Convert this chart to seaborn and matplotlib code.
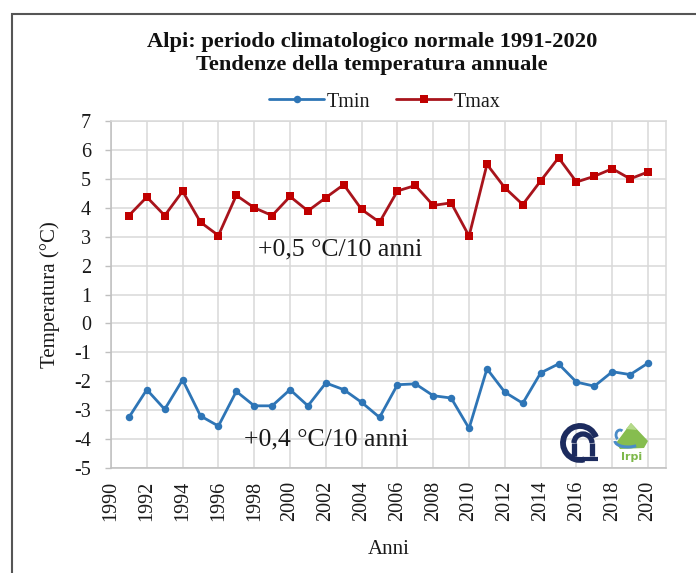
import matplotlib
matplotlib.use("Agg")
import matplotlib.pyplot as plt
from matplotlib.patches import Rectangle, Arc, Polygon
import seaborn as sns
import pandas as pd

# Annual series, Alps, 1991-2020 (°C)
years = [1991, 1992, 1993, 1994, 1995, 1996, 1997, 1998, 1999, 2000,
         2001, 2002, 2003, 2004, 2005, 2006, 2007, 2008, 2009, 2010,
         2011, 2012, 2013, 2014, 2015, 2016, 2017, 2018, 2019, 2020]
tmin = [-3.25, -2.29, -2.97, -1.95, -3.20, -3.55, -2.35, -2.85, -2.85, -2.29,
        -2.85, -2.06, -2.29, -2.73, -3.25, -2.12, -2.09, -2.50, -2.58, -3.63,
        -1.57, -2.38, -2.76, -1.71, -1.40, -2.03, -2.17, -1.67, -1.77, -1.37]
tmax = [3.73, 4.37, 3.73, 4.57, 3.50, 3.04, 4.43, 4.00, 3.73, 4.39,
        3.89, 4.35, 4.80, 3.94, 3.50, 4.58, 4.77, 4.08, 4.17, 3.02,
        5.50, 4.69, 4.11, 4.93, 5.73, 4.89, 5.09, 5.35, 5.00, 5.24]
x_ticks = [1990, 1992, 1994, 1996, 1998, 2000, 2002, 2004, 2006, 2008,
           2010, 2012, 2014, 2016, 2018, 2020]
y_ticks = [-5, -4, -3, -2, -1, 0, 1, 2, 3, 4, 5, 6, 7]
trend_labels = ["+0,5 °C/10 anni", "+0,4 °C/10 anni"]

df = pd.DataFrame({"Anno": years, "Tmin": tmin, "Tmax": tmax})

sns.set_theme(style="white")
plt.rcParams["font.family"] = ["Liberation Serif", "DejaVu Serif"]
plt.rcParams["axes.unicode_minus"] = False

W, H = 696, 573
fig = plt.figure(figsize=(W / 100, H / 100), dpi=100)
ax = fig.add_axes([111 / W, 1 - 468 / H, (666 - 111) / W, (468 - 121) / H])

blue = "#2E75B6"
red_line = "#A8141C"
red_mark = "#C00000"

sns.lineplot(data=df, x="Anno", y="Tmin", ax=ax, color=blue, lw=2.0,
             marker="o", markersize=5.4, markeredgewidth=0,
             label="Tmin", zorder=3)
sns.lineplot(data=df, x="Anno", y="Tmax", ax=ax, color=red_line, lw=2.0,
             marker="s", markersize=5.4, markerfacecolor=red_mark,
             markeredgewidth=0, label="Tmax", zorder=3)

ax.set_xlim(1990, 2021)
ax.set_ylim(-5, 7)
ax.set_xticks(x_ticks)
ax.set_yticks(y_ticks)
ax.set_xticklabels([str(v) for v in x_ticks], rotation=90, fontsize=14.5)
ax.set_yticklabels([str(v) for v in y_ticks], fontsize=14.5)
ax.tick_params(axis="x", length=0, pad=9, colors="#1a1a1a")
ax.tick_params(axis="y", length=4.5, width=1.0, direction="out", pad=10,
               colors="#1a1a1a", left=True)
ax.tick_params(axis="y", color="#BFBFBF")

ax.grid(True, color="#D9D9D9", lw=1.1, zorder=0)
ax.set_axisbelow(True)
for side in ["top", "right"]:
    ax.spines[side].set_color("#D9D9D9")
    ax.spines[side].set_linewidth(1.1)
for side in ["left", "bottom"]:
    ax.spines[side].set_color("#BFBFBF")
    ax.spines[side].set_linewidth(1.1)

ax.set_xlabel("Anni", fontsize=15, color="#1a1a1a")
ax.set_ylabel("Temperatura (°C)", fontsize=15, color="#1a1a1a")
ax.xaxis.set_label_coords(0.5, -(540 - 468) / (468 - 121))
ax.yaxis.set_label_coords((60 - 111) / (666 - 111), 0.5)

# trend annotations
ax.text(2002.8, 2.56, trend_labels[0], fontsize=18.5, ha="center",
        va="center", color="#1a1a1a")
ax.text(2002.0, -4.02, trend_labels[1], fontsize=18.5, ha="center",
        va="center", color="#1a1a1a")

leg = ax.legend(loc="center", bbox_to_anchor=(385 / W, 1 - 102 / H),
                bbox_transform=fig.transFigure, ncol=2, frameon=False,
                fontsize=14.5, handlelength=2.7, handletextpad=0.15,
                columnspacing=1.3, borderpad=0)
for t in leg.get_texts():
    t.set_color("#1a1a1a")

fig.text(372 / W, 1 - 42 / H, "Alpi: periodo climatologico normale 1991-2020",
         ha="center", va="center", fontsize=16.2, fontweight="bold",
         color="#111111")
fig.text(372 / W, 1 - 65 / H, "Tendenze della temperatura annuale",
         ha="center", va="center", fontsize=16.2, fontweight="bold",
         color="#111111")

# outer chart frame
fig.patches.append(Rectangle((12 / W, -0.2), 1.5, 1.2 - 14 / H,
                             transform=fig.transFigure, fill=False,
                             edgecolor="#555555", lw=1.5))

# institutional marks, drawn in pixel units
lg = fig.add_axes([558 / W, 1 - 463 / H, 92 / W, 44 / H])
lg.set_xlim(0, 92)
lg.set_ylim(0, 44)
lg.axis("off")
navy = "#1C2B5E"
lg.add_patch(Arc((22, 20), 34, 34, theta1=20, theta2=285, lw=4.2,
                 color=navy))
lg.add_patch(Arc((25, 20), 18, 18, theta1=0, theta2=180, lw=3.8,
                 color=navy))
lg.plot([16, 16], [20, 7], color=navy, lw=3.8, solid_capstyle="butt")
lg.plot([34, 34], [20, 7], color=navy, lw=3.8, solid_capstyle="butt")
lg.plot([26, 40], [4.5, 4.5], color=navy, lw=3.0, solid_capstyle="butt")
lg.add_patch(Polygon([[58, 20], [73, 40], [90, 22], [86, 15], [62, 14]],
                     closed=True, color="#86BD4F", lw=0))
lg.add_patch(Polygon([[68, 34], [73, 40], [79, 33]], closed=True,
                     color="#B5DA8A", lw=0))
lg.add_patch(Arc((70, 22), 26, 12, theta1=180, theta2=330, lw=2.2,
                 color="#4A8CC8"))
lg.add_patch(Arc((62, 28), 8, 10, theta1=60, theta2=240, lw=2.0,
                 color="#4A8CC8"))
lg.text(74, 6, "Irpi", fontsize=8, color="#7DB84A", ha="center",
        va="center", family="DejaVu Sans", fontweight="bold")

fig.savefig("out.png", dpi=100)
